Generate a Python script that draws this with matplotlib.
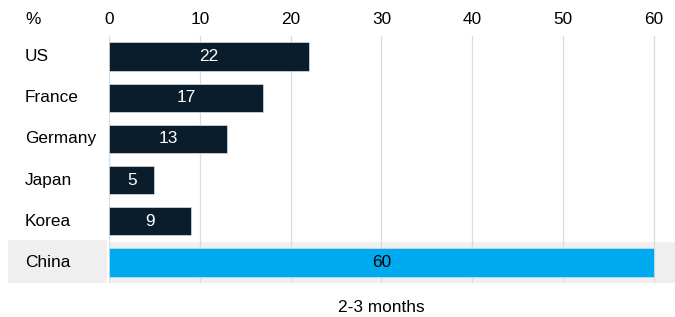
import matplotlib.pyplot as plt
from matplotlib.patches import Rectangle

# Data
countries = ["US", "France", "Germany", "Japan", "Korea", "China"]
values = [22, 17, 13, 5, 9, 60]
highlight = "China"
xticks = [0, 10, 20, 30, 40, 50, 60]
xlabel = "2-3 months"
unit_label = "%"

dark = "#0a1d2d"
blue = "#00aaf0"
band = "#efefef"
fs = 12.4

plt.rcParams['font.family'] = ['Liberation Sans', 'DejaVu Sans']

W, H = 675, 317
fig = plt.figure(figsize=(W / 100, H / 100), dpi=100)

# axes from px 109 (x=0) to right edge, y from 36 to 283
ax = fig.add_axes([109 / W, 1 - 283 / H, 1 - 109 / W, (283 - 36) / H])
ax.set_zorder(1)
ax.set_xlim(0, (675 - 109) / 9.08)
ax.set_ylim(len(countries) - 0.5, -0.5)

pos = list(range(len(countries)))
hi = countries.index(highlight)

# highlight band behind China row (plot area + label area)
ax.axhspan(hi - 0.5, hi + 0.5, color=band, zorder=0, lw=0)
fig.patches.append(Rectangle((8 / W, 1 - 283 / H), (107 - 8) / W, (283 - 240) / H,
                             transform=fig.transFigure, facecolor=band, edgecolor='none', zorder=0))

for x in xticks:
    ax.axvline(x, color="#dcdcdc", lw=0.9, zorder=1)

colors = [blue if c == highlight else dark for c in countries]
ax.barh(pos, values, height=0.69, color=colors, edgecolor="#d8e0e6", linewidth=0.5, zorder=2)

for p, v, c in zip(pos, values, countries):
    ax.text(v / 2, p, str(v), ha='center', va='center', fontsize=fs,
            color='black' if c == highlight else 'white', zorder=3)

ax.set_yticks([])
ax.set_xticks([])
for s in ax.spines.values():
    s.set_visible(False)
ax.patch.set_alpha(0)

# row labels at left, positioned on data rows
for p, c in zip(pos, countries):
    ax.annotate(c, xy=(25 / W, p), xycoords=('figure fraction', 'data'),
                fontsize=fs, va='center', ha='left', annotation_clip=False)

# top tick labels
for x in xticks:
    ax.annotate(str(x), xy=(x, 1 - 19 / H), xycoords=('data', 'figure fraction'),
                fontsize=fs, va='center', ha='center', annotation_clip=False)
fig.text(25 / W, 1 - 19 / H, unit_label, fontsize=fs, va='center', ha='left')

fig.text(381 / W, 1 - 307 / H, xlabel, fontsize=fs, va='center', ha='center')

fig.savefig("out.png", dpi=100)
